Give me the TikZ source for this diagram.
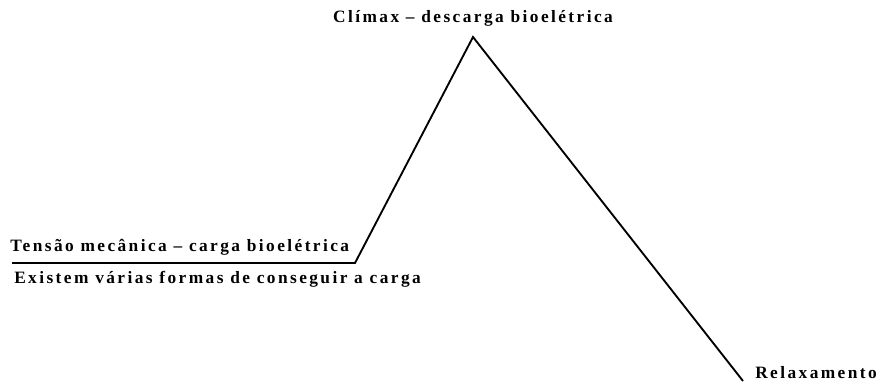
\documentclass[tikz,border=0pt]{standalone}
\usepackage{fontspec}
\setmainfont{Liberation Serif}[LetterSpace=14]
\usepackage{tikz}

\tikzset{
  label text/.style={font=\bfseries\fontsize{13}{15}\selectfont, inner sep=0pt},
}

\begin{document}
\begin{tikzpicture}[x=0.75pt,y=-0.75pt]
  \useasboundingbox (0,0) rectangle (880,383);
  \coordinate (start) at (12,263);
  \coordinate (knee) at (355,263);
  \coordinate (peak) at (473,37);
  \coordinate (tail) at (743,381);
  \draw[line width=1.4pt] (start)--(knee)--(peak)--(tail);
  \node[label text] (climax) at (473,18) {Clímax – descarga bioelétrica};
  \node[label text,anchor=base west] (tensao) at (10,251) {Tensão mecânica – carga bioelétrica};
  \node[label text,anchor=base west] (formas) at (14,283) {Existem várias formas de conseguir a carga};
  \node[label text,anchor=base west] (relax) at (755,378) {Relaxamento};
\end{tikzpicture}
\end{document}
